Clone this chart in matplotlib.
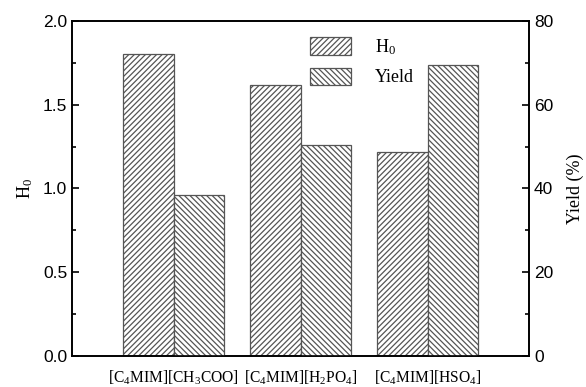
import numpy as np
import matplotlib
matplotlib.use("Agg")
import matplotlib.pyplot as plt
from matplotlib.ticker import MultipleLocator

plt.rcParams['font.family'] = 'Liberation Sans'
plt.rcParams['mathtext.fontset'] = 'custom'
plt.rcParams['mathtext.rm'] = 'Liberation Serif'
plt.rcParams['mathtext.it'] = 'Liberation Serif:italic'
plt.rcParams['hatch.linewidth'] = 0.9

# Ionic liquids and measured values
catalysts = [r"[C$_4$MIM][CH$_3$COO]", r"[C$_4$MIM][H$_2$PO$_4$]", r"[C$_4$MIM][HSO$_4$]"]
h0_values = [1.80, 1.62, 1.22]
yield_values = [38.4, 50.4, 69.5]

x = np.arange(len(catalysts))
width = 0.4
edge = '#555555'

fig = plt.figure(figsize=(5.86, 3.87), dpi=100)
ax = fig.add_axes([0.123, 0.080, 0.780, 0.866])
ax2 = ax.twinx()

b1 = ax.bar(x - width / 2, h0_values, width, color='white', edgecolor=edge,
            hatch='//////', linewidth=0.9, label=r"$\mathrm{H_0}$")
b2 = ax2.bar(x + width / 2, yield_values, width, color='white', edgecolor=edge,
             hatch='\\\\\\\\\\\\', linewidth=0.9, label="Yield")

ax.set_xlim(-0.8, 2.8)
ax.set_ylim(0, 2.0)
ax2.set_ylim(0, 80)

ax.set_xticks(x)
ax.set_xticklabels(catalysts, fontsize=11.2, family='Liberation Serif')
ax.tick_params(axis='x', length=0, pad=9)

ax.yaxis.set_major_locator(MultipleLocator(0.5))
ax.yaxis.set_minor_locator(MultipleLocator(0.25))
ax.tick_params(axis='y', which='major', direction='in', length=5, width=1.2, labelsize=12.5)
ax.tick_params(axis='y', which='minor', direction='in', length=3, width=1.2)
ax.yaxis.set_major_formatter(matplotlib.ticker.FormatStrFormatter('%.1f'))

ax2.yaxis.set_major_locator(MultipleLocator(20))
ax2.yaxis.set_minor_locator(MultipleLocator(10))
ax2.tick_params(axis='y', which='major', direction='in', length=5, width=1.2, labelsize=12.5)
ax2.tick_params(axis='y', which='minor', direction='in', length=3, width=1.2)

for a in (ax, ax2):
    for s in a.spines.values():
        s.set_linewidth(1.2)

ax.set_ylabel(r"$\mathrm{H_0}$", fontsize=13, labelpad=6)
ax2.set_ylabel("Yield (%)", fontsize=13, family='Liberation Serif', labelpad=10)

leg = ax.legend([b1, b2], [r"$\mathrm{H_0}$", "Yield"], loc='upper left',
                bbox_to_anchor=(0.484, 1.0), frameon=False,
                prop={'family': 'Liberation Serif', 'size': 13},
                handlelength=2.3, handleheight=1.1, handletextpad=1.3,
                labelspacing=0.6)

fig.savefig("out.png", dpi=100)
